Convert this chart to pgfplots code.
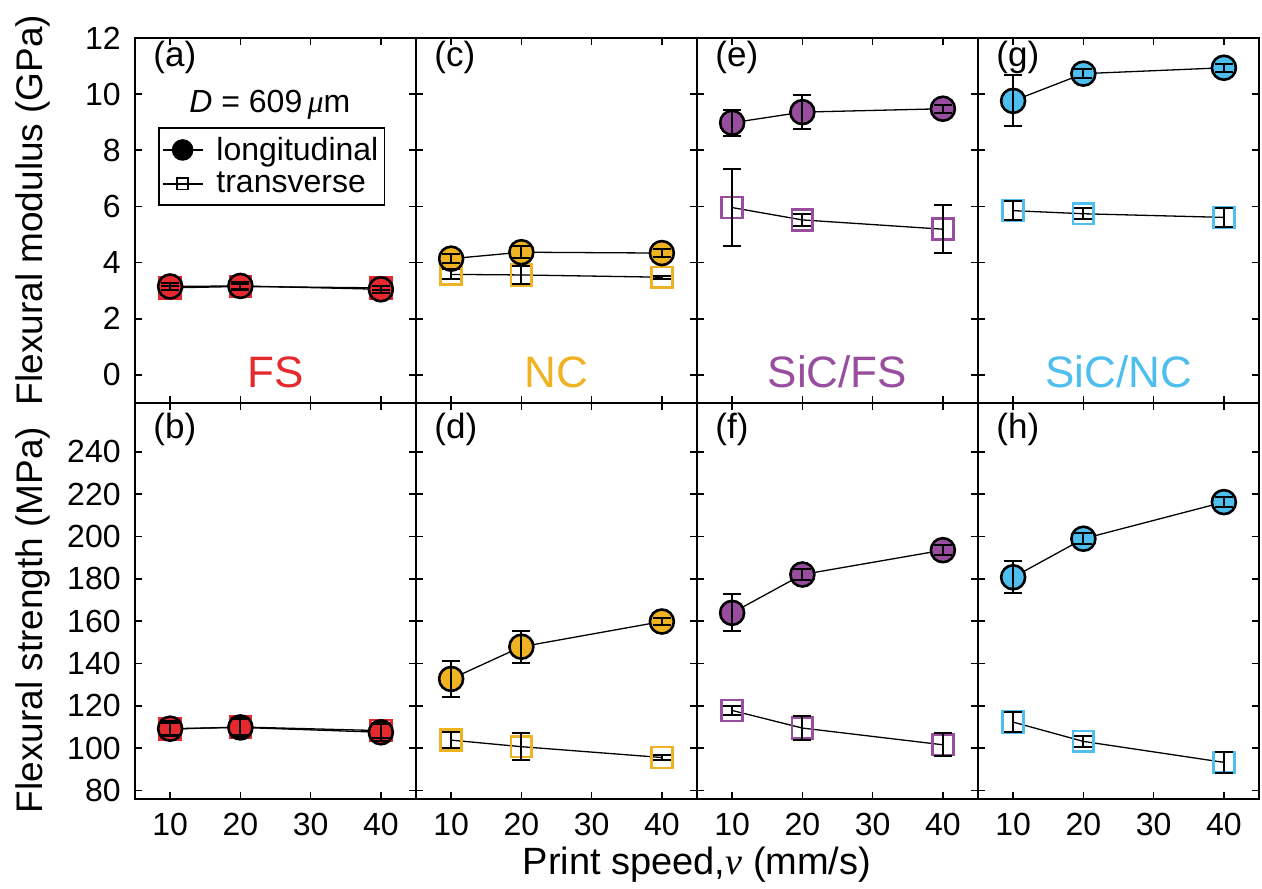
\documentclass[border=0pt]{standalone}
\usepackage{fontspec}
\setmainfont{Liberation Sans}
\newfontfamily\greek{Liberation Serif}
\usepackage{pgfplots}
\usepackage{pgfplotstable}
\pgfplotsset{compat=1.18}

\definecolor{cFS}{HTML}{E52A2F}
\definecolor{cNC}{HTML}{EEB223}
\definecolor{cSFS}{HTML}{984D9E}
\definecolor{cSNC}{HTML}{4DBEEE}

% x: print speed; yl/el: longitudinal mean/error; yt/et: transverse mean/error
% Flexural modulus (GPa)
\pgfplotstableread{
x yl el yt et
10 3.15 0.12 3.10 0.08
20 3.17 0.15 3.15 0.10
40 3.05 0.12 3.10 0.08
}\modFS
\pgfplotstableread{
x yl el yt et
10 4.14 0.15 3.58 0.18
20 4.37 0.22 3.56 0.33
40 4.34 0.15 3.48 0.05
}\modNC
\pgfplotstableread{
x yl el yt et
10 8.98 0.46 5.96 1.38
20 9.36 0.61 5.52 0.22
40 9.48 0.15 5.19 0.85
}\modSFS
\pgfplotstableread{
x yl el yt et
10 9.76 0.91 5.85 0.35
20 10.73 0.15 5.74 0.20
40 10.94 0.15 5.61 0.33
}\modSNC
% Flexural strength (MPa)
\pgfplotstableread{
x yl el yt et
10 109.2 3.5 109.0 3.0
20 109.8 4.3 110.0 4.0
40 107.5 3.9 108.3 3.5
}\strFS
\pgfplotstableread{
x yl el yt et
10 132.7 8.3 103.8 3.8
20 147.9 7.5 100.7 6.5
40 159.8 1.5 95.6 1.0
}\strNC
\pgfplotstableread{
x yl el yt et
10 163.9 8.7 117.8 2.1
20 182.0 2.5 109.5 5.5
40 193.5 2.5 101.6 5.5
}\strSFS
\pgfplotstableread{
x yl el yt et
10 180.7 7.5 112.3 4.8
20 198.9 2.5 103.2 2.6
40 216.2 2.5 93.3 5.1
}\strSNC

\newcommand\fsz[1]{\fontsize{#1}{1.2\dimexpr#1pt\relax}\selectfont}

\pgfplotsset{
  panel/.style={
    set layers,
    scale only axis, width=140.5pt,
    xmin=5, xmax=45, xtick={10,20,30,40},
    tick align=inside, tick pos=both,
    major tick length=3.5pt,
    axis line style={line width=1pt, black},
    tick style={line width=0.8pt, black},
    ticklabel style={font=\fsz{16}},
    /pgf/number format/assume math mode=true,
    yticklabel style={inner sep=0pt, xshift=-7pt},
    xticklabel style={inner sep=0pt, yshift=-7pt},
    clip=false,
  },
  toprow/.style={height=182.5pt, ymin=-1, ymax=12, ytick={0,2,...,12}, xticklabels={}},
  botrow/.style={height=198pt, ymin=76, ymax=263, ytick={80,100,...,240}},
  noy/.style={yticklabels={}},
  lon/.style={black, line width=0.65pt, mark=*, mark size=6pt,
    mark options={fill=#1, draw=black, line width=1.3pt, solid}},
  tra/.style 2 args={black, line width=0.65pt, mark=square, mark size=5.2pt,
    mark options={draw=#1, fill=#2, line width=1.3pt, solid}},
  eb/.style={forget plot, on layer=axis foreground, draw=none, mark=none,
    error bars/.cd, y dir=both, y explicit,
    error bar style={draw=black, line width=1pt},
    error mark options={rotate=90, draw=black, mark size=4.5pt, line width=1pt}},
  legend image code/.code={%
    \draw[mark repeat=2, mark phase=2, #1]
      plot coordinates {(0pt,0pt) (10pt,0pt) (20pt,0pt)};},
}

% transverse, then longitudinal, then the error bars of both on top
\newcommand\plotpair[3]{%
  \addplot[forget plot, tra={#2}{#3}] table[x=x,y=yt]{#1};
  \addplot[forget plot, lon=#2] table[x=x,y=yl]{#1};
  \addplot[eb] table[x=x,y=yt,y error=et]{#1};
  \addplot[eb] table[x=x,y=yl,y error=el]{#1};
}
\newcommand\tag[2]{\node[anchor=west, inner sep=0pt, font=\fsz{17.5}] at (rel axis cs:0.064,#2) {#1};}
\newcommand\group[2]{\node[font=\fsz{22}, text=#2] at (rel axis cs:0.5,0.085) {#1};}

\begin{document}
\begin{tikzpicture}

% ---- flexural modulus ----
\begin{axis}[panel, toprow, at={(67.5pt,242.5pt)}, anchor=south west,
  legend style={at={(0.082,0.756)}, anchor=north west, draw=black,
    line width=0.8pt, font=\fsz{16}, inner xsep=1.5pt, inner ysep=3pt,
    nodes={inner sep=1.5pt}, row sep=1.5pt, column sep=5pt},
  legend cell align=left]
  \addlegendimage{black, line width=0.8pt, mark=*, mark size=5pt}
  \addlegendentry{longitudinal}
  \addlegendimage{black, line width=0.8pt, mark=square, mark size=2.8pt, mark options={fill=white, solid}}
  \addlegendentry{transverse}
  \plotpair{\modFS}{cFS}{cFS}
  \tag{(a)}{0.948}
  \group{FS}{cFS}
  \node[font=\fsz{16}] at (rel axis cs:0.48,0.816) {\textit{D} = 609\,{\greek\itshape μ}m};
\end{axis}
\begin{axis}[panel, toprow, noy, at={(208pt,242.5pt)}, anchor=south west]
  \plotpair{\modNC}{cNC}{white}
  \tag{(c)}{0.948}
  \group{NC}{cNC}
\end{axis}
\begin{axis}[panel, toprow, noy, at={(348.5pt,242.5pt)}, anchor=south west]
  \plotpair{\modSFS}{cSFS}{white}
  \tag{(e)}{0.948}
  \group{SiC/FS}{cSFS}
\end{axis}
\begin{axis}[panel, toprow, noy, at={(489pt,242.5pt)}, anchor=south west]
  \plotpair{\modSNC}{cSNC}{white}
  \tag{(g)}{0.948}
  \group{SiC/NC}{cSNC}
\end{axis}

% ---- flexural strength ----
\begin{axis}[panel, botrow, at={(67.5pt,44.5pt)}, anchor=south west]
  \plotpair{\strFS}{cFS}{cFS}
  \tag{(b)}{0.932}
\end{axis}
\begin{axis}[panel, botrow, noy, at={(208pt,44.5pt)}, anchor=south west]
  \plotpair{\strNC}{cNC}{white}
  \tag{(d)}{0.932}
\end{axis}
\begin{axis}[panel, botrow, noy, at={(348.5pt,44.5pt)}, anchor=south west]
  \plotpair{\strSFS}{cSFS}{white}
  \tag{(f)}{0.932}
\end{axis}
\begin{axis}[panel, botrow, noy, at={(489pt,44.5pt)}, anchor=south west]
  \plotpair{\strSNC}{cSNC}{white}
  \tag{(h)}{0.932}
\end{axis}

\node[rotate=90, font=\fsz{18.5}] at (16.5pt,339pt) {Flexural modulus (GPa)};
\node[rotate=90, font=\fsz{18.5}] at (16.5pt,134pt) {Flexural strength (MPa)};
\node[font=\fsz{19}] at (348.5pt,11.5pt) {Print speed,{\greek\itshape ν} (mm/s)};

% page frame
\pgfresetboundingbox
\path (0,0) rectangle (631pt,444pt);
\end{tikzpicture}
\end{document}
